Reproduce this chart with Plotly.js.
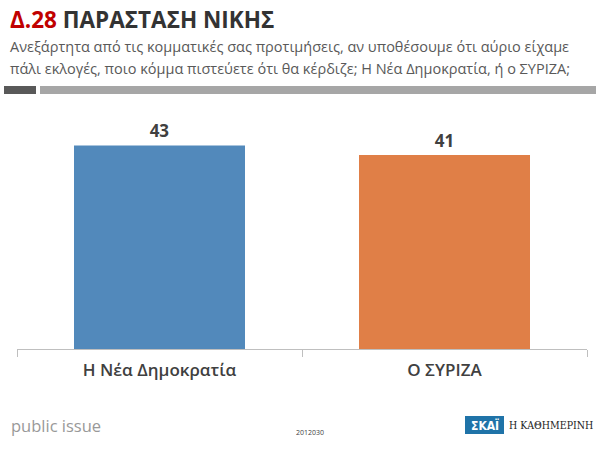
<!DOCTYPE html>
<html>
<head>
<meta charset="utf-8">
<script src="https://cdn.plot.ly/plotly-3.0.1.min.js"></script>
<style>html,body{margin:0;padding:0;background:#fff;}#chart{width:600px;height:449px;}</style>
</head>
<body>
<div id="chart"></div>
<script>
const categories = ["Η Νέα Δημοκρατία", "Ο ΣΥΡΙΖΑ"];
const values = [43, 41];
const barColors = ["#5289bb", "#e07f47"];
const titleCode = "Δ.28";
const titleText = "ΠΑΡΑΣΤΑΣΗ ΝΙΚΗΣ";
const subtitleLines = [
  "Ανεξάρτητα από τις κομματικές σας προτιμήσεις, αν υποθέσουμε ότι αύριο είχαμε",
  "πάλι εκλογές, ποιο κόμμα πιστεύετε ότι θα κέρδιζε; Η Νέα Δημοκρατία, ή ο ΣΥΡΙΖΑ;"
];
const footerLeft = "public issue";
const footerCode = "2012030";
const logoA = "ΣΚΑΪ";
const logoB = "Η ΚΑΘΗΜΕΡΙΝΗ";

const trace = {
  type: "bar",
  x: categories,
  y: values,
  marker: {color: barColors},
  text: values.map(String),
  textposition: "outside",
  textfont: {family: "Open Sans, sans-serif", size: 17, color: "#404040", weight: 700},
  cliponaxis: false,
  hoverinfo: "none"
};

const px = x => (x - 17) / 570;
const py = y => (349 - y) / 213;

const layout = {
  width: 600, height: 449,
  margin: {l: 17, r: 13, t: 136, b: 100},
  paper_bgcolor: "#fff", plot_bgcolor: "#fff",
  bargap: 0.4,
  showlegend: false,
  xaxis: {
    showline: true, linecolor: "#bfbfbf", linewidth: 1,
    ticks: "outside", tickcolor: "#bfbfbf", ticklen: 7, tickson: "boundaries",
    tickfont: {family: "Open Sans, sans-serif", size: 17, color: "#404040", weight: 600},
    ticklabelstandoff: 6,
    showgrid: false, zeroline: false
  },
  yaxis: {range: [0, 45], visible: false, showgrid: false, zeroline: false},
  shapes: [
    {type: "rect", xref: "paper", yref: "paper",
     x0: px(4), x1: px(36), y0: py(94), y1: py(86),
     fillcolor: "#595959", line: {width: 0}},
    {type: "rect", xref: "paper", yref: "paper",
     x0: px(40), x1: px(596), y0: py(94), y1: py(86),
     fillcolor: "#a6a6a6", line: {width: 0}},
    {type: "rect", xref: "paper", yref: "paper",
     x0: px(465), x1: px(504), y0: py(434), y1: py(416),
     fillcolor: "#1f73a8", line: {width: 0}}
  ],
  annotations: [
    {xref: "paper", yref: "paper", x: px(8), y: py(20), xanchor: "left", yanchor: "middle",
     showarrow: false,
     text: "<span style='color:#c00000'>" + titleCode + "</span> " + titleText,
     font: {family: "Open Sans, sans-serif", size: 22.5, color: "#333333", weight: 700}},
    {xref: "paper", yref: "paper", x: px(8), y: py(47), xanchor: "left", yanchor: "middle",
     showarrow: false, text: subtitleLines[0],
     font: {family: "Open Sans, sans-serif", size: 14.5, color: "#595959"}},
    {xref: "paper", yref: "paper", x: px(8), y: py(68), xanchor: "left", yanchor: "middle",
     showarrow: false, text: subtitleLines[1],
     font: {family: "Open Sans, sans-serif", size: 14.5, color: "#595959"}},
    {xref: "paper", yref: "paper", x: px(9), y: py(425), xanchor: "left", yanchor: "middle",
     showarrow: false, text: footerLeft,
     font: {family: "Open Sans, sans-serif", size: 16.5, color: "#999999"}},
    {xref: "paper", yref: "paper", x: px(310), y: py(432), xanchor: "center", yanchor: "middle",
     showarrow: false, text: footerCode,
     font: {family: "Open Sans, sans-serif", size: 7, color: "#404040"}},
    {xref: "paper", yref: "paper", x: px(484.5), y: py(425), xanchor: "center", yanchor: "middle",
     showarrow: false, text: logoA,
     font: {family: "DejaVu Sans Condensed, Liberation Sans Narrow, sans-serif", size: 12, color: "#ffffff", weight: 700}},
    {xref: "paper", yref: "paper", x: px(595), y: py(425), xanchor: "right", yanchor: "middle",
     showarrow: false, text: logoB,
     font: {family: "DejaVu Serif Condensed, Liberation Serif, serif", size: 10.5, color: "#1a1a1a"}}
  ]
};

Plotly.newPlot("chart", [trace], layout, {displayModeBar: false, staticPlot: true});
</script>
</body>
</html>
